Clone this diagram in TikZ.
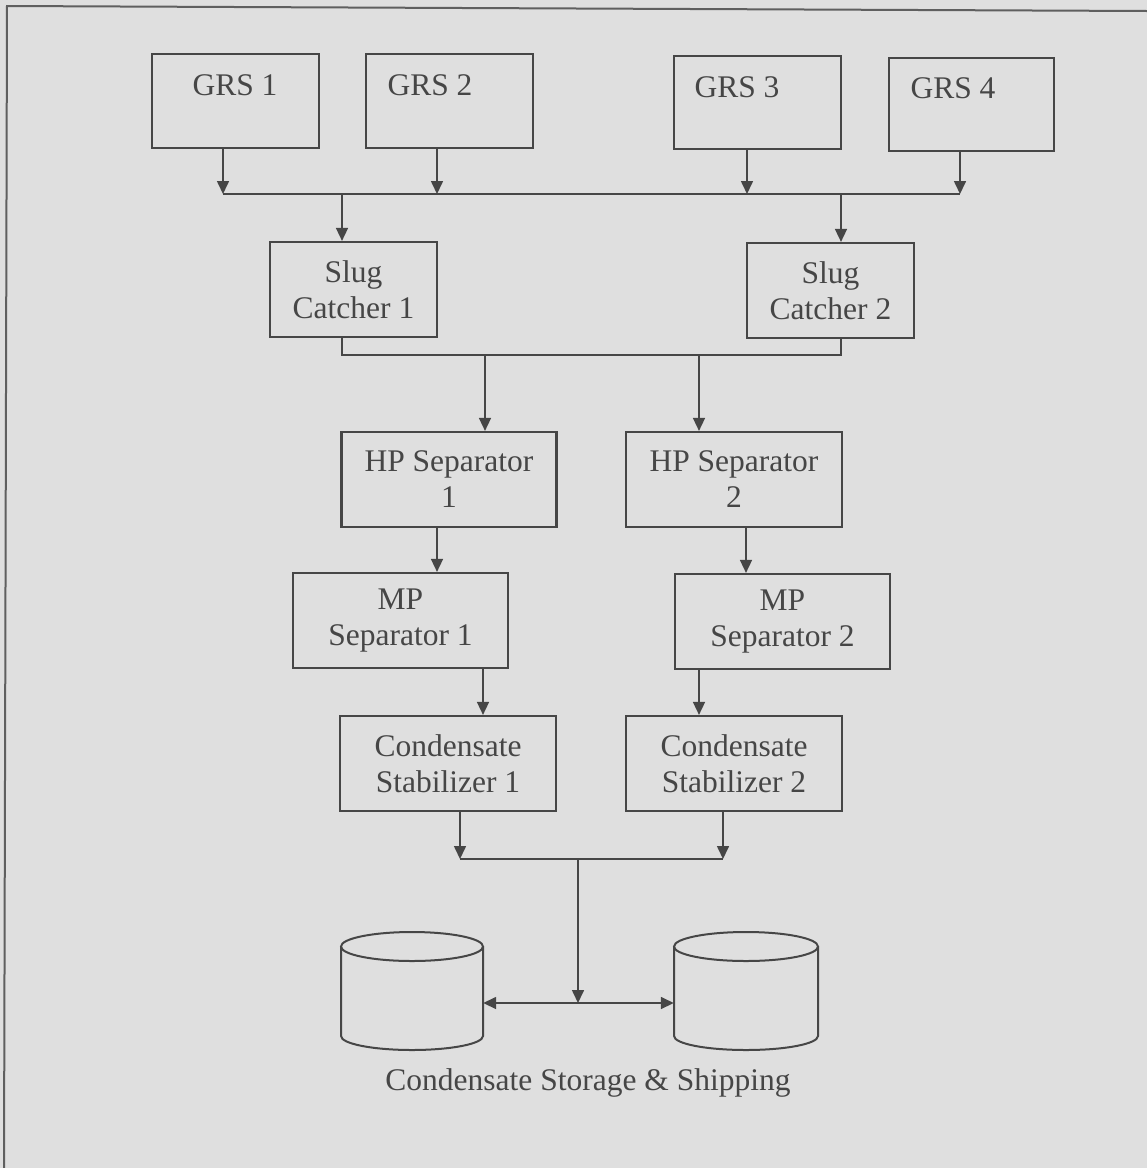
\documentclass[tikz,border=0pt]{standalone}
\usepackage{fontspec}
\setmainfont{Liberation Serif}
\usetikzlibrary{arrows.meta,calc}
\definecolor{bg}{RGB}{223,223,223}
\definecolor{ink}{RGB}{70,70,70}
\definecolor{frame}{RGB}{95,95,95}
\begin{document}
\begin{tikzpicture}[x=1pt,y=-1pt,
  box/.style={draw=ink,line width=2.2pt,inner sep=0pt,align=center,text=ink,font=\fontsize{31.5}{36}\selectfont},
  lbl/.style={text=ink,font=\fontsize{31.5}{36}\selectfont,inner sep=0pt,anchor=base},
  conn/.style={draw=ink,line width=1.6pt},
  arr/.style={conn,-{Triangle[length=13pt,width=12pt]}},
  darr/.style={conn,{Triangle[length=13pt,width=12pt]}-{Triangle[length=13pt,width=12pt]}},
  tank/.style={draw=ink,line width=2pt},
  hold/.style={inner sep=0pt,draw=none}]
\useasboundingbox (0,0) rectangle (1147,1168);
\fill[bg] (0,0) rectangle (1147,1168);
\draw[frame,line width=2pt] (4,1168) -- (7,6) -- (1147,11);

% GRS boxes
\node[box,minimum width=167,minimum height=94] (g1) at (235.5,101) {};
\node[box,minimum width=167,minimum height=94] (g2) at (449.5,101) {};
\node[box,minimum width=167,minimum height=93] (g3) at (757.5,102.5) {};
\node[box,minimum width=165,minimum height=93] (g4) at (971.5,104.5) {};
\node[lbl] (g1t) at (235,95) {GRS 1};
\node[lbl] (g2t) at (430,95) {GRS 2};
\node[lbl] (g3t) at (737,97) {GRS 3};
\node[lbl] (g4t) at (953,98) {GRS 4};

% Slug catchers
\node[box,minimum width=167,minimum height=95] (s1) at (353.5,289.5) {Slug\\Catcher 1};
\node[box,minimum width=167,minimum height=95] (s2) at (830.5,290.5) {Slug\\Catcher 2};

% HP separators
\node[box,minimum width=215,minimum height=95] (h1) at (449,479.5) {HP Separator\\1};
\node[box,minimum width=216,minimum height=95] (h2) at (734,479.5) {HP Separator\\2};

% MP separators
\node[box,minimum width=215,minimum height=95] (m1) at (400.5,620.5) {MP\\Separator 1};
\node[box,minimum width=215,minimum height=95] (m2) at (782.5,621.5) {MP\\Separator 2};

% Condensate stabilizers
\node[box,minimum width=216,minimum height=95] (c1) at (448,763.5) {Condensate\\Stabilizer 1};
\node[box,minimum width=216,minimum height=95] (c2) at (734,763.5) {Condensate\\Stabilizer 2};

% Tanks
\node[hold,minimum width=142,minimum height=118] (t1) at (412,991) {};
\node[hold,minimum width=144,minimum height=118] (t2) at (746,991) {};
\draw[tank] (412,946.5) ellipse [x radius=71, y radius=14.5];
\draw[tank] (341,946.5) -- (341,1036) arc[start angle=180, end angle=0, x radius=71, y radius=14] -- (483,946.5);
\draw[tank] (746,946.5) ellipse [x radius=72, y radius=14.5];
\draw[tank] (674,946.5) -- (674,1036) arc[start angle=180, end angle=0, x radius=72, y radius=14] -- (818,946.5);
\node[lbl] (lab) at (588,1090) {Condensate Storage \& Shipping};

% top bus
\coordinate (a1) at (223,194);
\coordinate (a2) at (437,194);
\coordinate (a3) at (747,194);
\coordinate (a4) at (960,194);
\coordinate (d1) at (342,194);
\coordinate (d2) at (841,194);
\draw[conn] (a1) -- (a4);
\draw[arr] (g1.south -| a1) -- (a1);
\draw[arr] (g2.south -| a2) -- (a2);
\draw[arr] (g3.south -| a3) -- (a3);
\draw[arr] (g4.south -| a4) -- (a4);
\draw[arr] (d1) -- (d1 |- s1.north);
\draw[arr] (d2) -- (d2 |- s2.north);

% slug bus
\coordinate (e1) at (342,355);
\coordinate (e2) at (841,355);
\coordinate (f1) at (485,355);
\coordinate (f2) at (699,355);
\draw[conn] (s1.south -| e1) -- (e1) -- (e2) -- (s2.south -| e2);
\draw[arr] (f1) -- (f1 |- h1.north);
\draw[arr] (f2) -- (f2 |- h2.north);

% HP -> MP
\coordinate (x1) at (437,0);
\coordinate (x2) at (746,0);
\draw[arr] (h1.south -| x1) -- (m1.north -| x1);
\draw[arr] (h2.south -| x2) -- (m2.north -| x2);

% MP -> CS
\coordinate (y1) at (483,0);
\coordinate (y2) at (699,0);
\draw[arr] (m1.south -| y1) -- (c1.north -| y1);
\draw[arr] (m2.south -| y2) -- (c2.north -| y2);

% CS -> bus
\coordinate (k1) at (460,859);
\coordinate (k2) at (723,859);
\coordinate (km) at (578,859);
\coordinate (j) at (578,1003);
\draw[conn] (k1) -- (k2);
\draw[arr] (c1.south -| k1) -- (k1);
\draw[arr] (c2.south -| k2) -- (k2);
\draw[arr] (km) -- (j);
\draw[darr] (t1.east |- j) -- (t2.west |- j);
\end{tikzpicture}
\end{document}
